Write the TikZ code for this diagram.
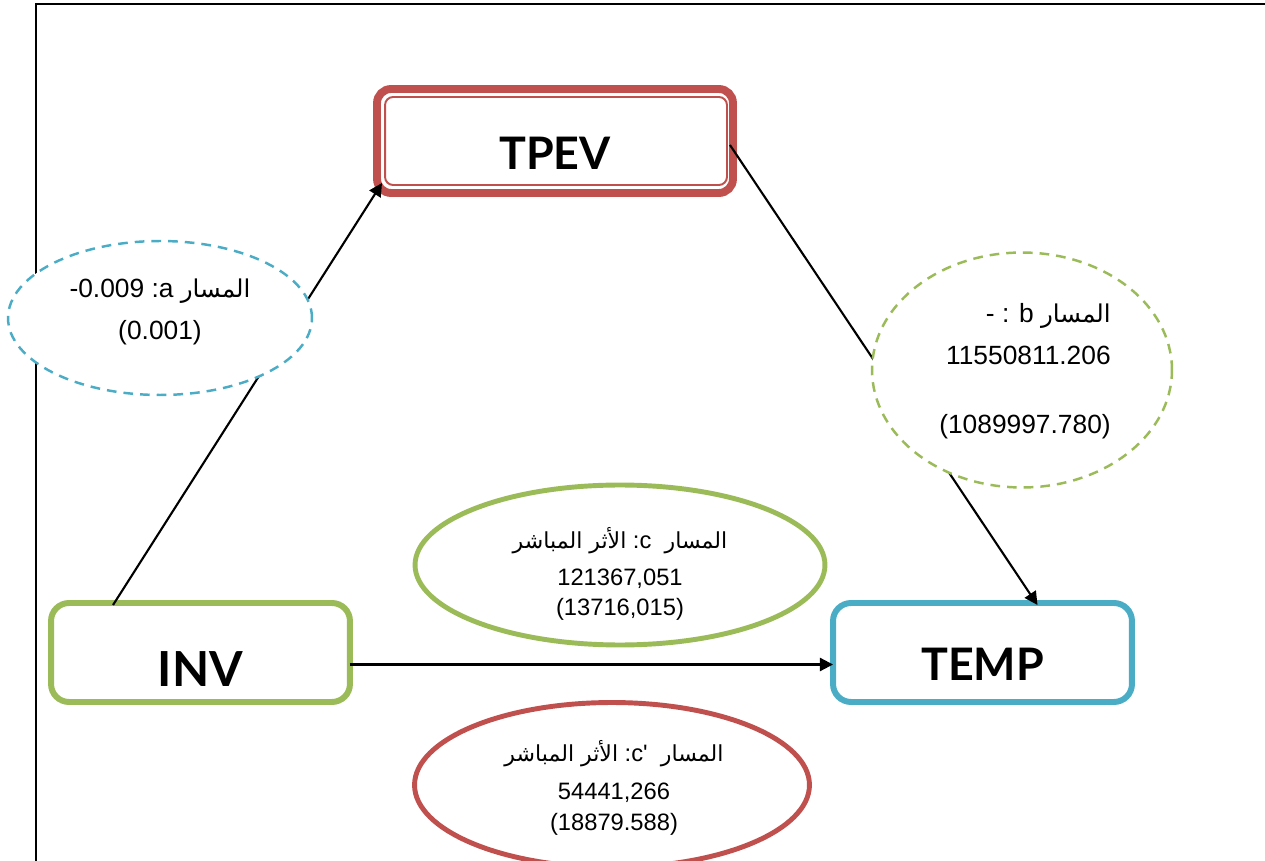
\documentclass[tikz,border=0pt]{standalone}
\usepackage{fontspec}
\setmainfont{Liberation Sans}
\newfontfamily\arfont[Script=Arabic,Scale=0.93]{DejaVu Sans}
\newfontfamily\boxfont{Lato}
\TeXXeTstate=1
\usetikzlibrary{shapes.geometric,arrows.meta,calc}

\definecolor{cred}{HTML}{C0504D}
\definecolor{cgreen}{HTML}{9BBB59}
\definecolor{cblue}{HTML}{4BACC6}

% Arabic run, set right to left
\newcommand\arw[1]{{\arfont\beginR #1\endR}}
% box caption, lowered below the box centre
\newcommand\lowcap[2]{\raisebox{-#1}[0pt][0pt]{#2}}

\tikzset{
  varbox/.style={rectangle, fill=white, outer sep=0pt, inner sep=0pt,
    minimum width=5.98cm, minimum height=1.98cm, line width=3.4pt,
    rounded corners=0.36cm, font=\boxfont\bfseries\fontsize{25.5}{30}\selectfont},
  dashoval/.style={ellipse, fill=white, inner sep=0pt, outer sep=0pt,
    line width=1.4pt, dash pattern=on 5.5pt off 4pt},
  solidoval/.style={ellipse, fill=white, inner sep=0pt, outer sep=0pt,
    line width=2.8pt},
  pathlabel/.style={inner sep=0pt, text=black},
  arr/.style={line width=1.2pt, -{Triangle[length=7.5pt,width=7.5pt]}},
  framerule/.style={line width=1.2pt, line cap=rect}
}

\begin{document}
\begin{tikzpicture}[x=0.02cm, y=-0.02cm]
\useasboundingbox (0,0) rectangle (1265,861);

% page frame
\draw[framerule] (36,870) -- (36,4) -- (1275,4);

% variables
\node[varbox, draw=cred, line width=4.5pt, rounded corners=0.28cm,
      minimum width=7.12cm, minimum height=2.08cm] (tpev) at (555,141)
      {\lowcap{0.58cm}{TPEV}};
\draw[cred, line width=1.1pt, rounded corners=0.16cm]
  ($(tpev.south west)+(8,-8)$) rectangle ($(tpev.north east)+(-6,8)$);
\node[varbox, draw=cgreen] (inv) at (200.5,652.5) {\lowcap{0.69cm}{\fontsize{27.5}{30}\selectfont INV}};
\node[varbox, draw=cblue] (temp) at (982.5,652.5) {\lowcap{0.56cm}{TEMP}};

% paths
\draw[arr] ($(inv.north west)+(62,2)$) -- ($(tpev.south west)+(5,-10)$);
\draw[arr] ($(tpev.east)+(-3,4)$) -- ($(temp.north)+(55,2)$);
\draw[arr] ($(inv.east)+(0,12)$) -- ($(temp.west)+(0,12)$);

% path coefficients
\node[dashoval, draw=cblue, minimum width=6.08cm, minimum height=3.08cm] (ea) at (160,318) {};
\node[dashoval, draw=cgreen, minimum width=6.0cm, minimum height=4.7cm] (eb) at (1022,370) {};
\node[solidoval, draw=cgreen, minimum width=8.2cm, minimum height=3.2cm] (ec) at (620,565) {};
\node[solidoval, draw=cred, minimum width=7.9cm, minimum height=3.3cm] (ecp) at (612,785) {};

\node[pathlabel, align=center, font=\fontsize{15}{23.8}\selectfont] (ta)
  at ($(ea)+(0,-6)$) {-0.009 :a \arw{المسار}\\(0.001)};
\node[pathlabel, align=right, font=\fontsize{15}{24.4}\selectfont] (tb)
  at ($(eb)+(3,1)$) {- : b \arw{المسار}\\11550811.206\\[14.7pt](1089997.780)};
\node[pathlabel, align=center, font=\fontsize{13.5}{17.6}\selectfont] (tc)
  at ($(ec)+(0,9)$) {\arw{الأثر المباشر} :c\ \ \arw{المسار}\\[3.4pt]121367,051\\(13716,015)};
\node[pathlabel, align=center, font=\fontsize{13.5}{17.6}\selectfont] (tcp)
  at ($(ecp)+(2,3)$) {\arw{الأثر المباشر} :c\textquotesingle\ \ \arw{المسار}\\[4pt]54441,266\\(18879.588)};
\end{tikzpicture}
\end{document}
